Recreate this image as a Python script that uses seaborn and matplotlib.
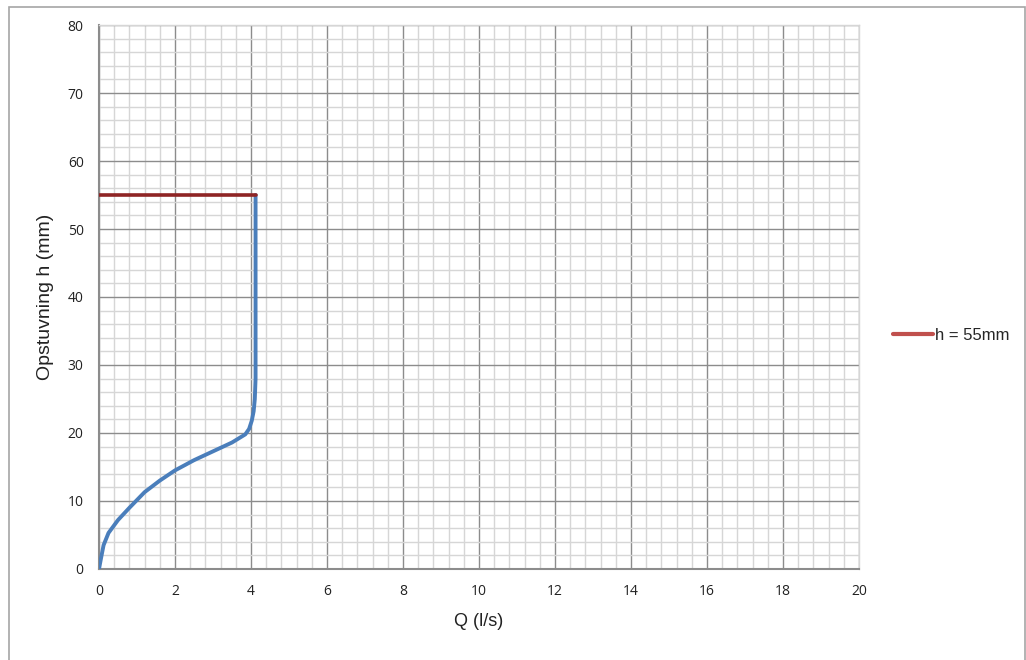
import numpy as np
import pandas as pd
import matplotlib
matplotlib.use("Agg")
import matplotlib.pyplot as plt
from matplotlib.patches import Rectangle
from matplotlib.ticker import MultipleLocator
import seaborn as sns

# Kurve: Q (l/s) mod opstuvning h (mm)
q_values = [0.0, 0.05, 0.12, 0.25, 0.5, 0.8, 1.2, 1.6, 2.0, 2.5, 3.0, 3.5, 3.85,
            3.95, 4.02, 4.07, 4.1, 4.12, 4.12, 4.12]
h_values = [0.0, 1.5, 3.5, 5.3, 7.2, 9.0, 11.3, 13.0, 14.5, 16.0, 17.3, 18.6, 19.8,
            20.6, 21.8, 23.2, 25.0, 28.0, 40.0, 55.0]

# Grænse h = 55mm
limit_q = [0.0, 4.12]
limit_h = [55.0, 55.0]
limit_label = "h = 55mm"

sns.set_theme(style="white")
plt.rcParams['font.family'] = ['Open Sans', 'DejaVu Sans']

fig = plt.figure(figsize=(10.26, 6.6), dpi=100)
ax = fig.add_axes([0.0965, 0.1379, 0.8372 - 0.0965, 0.9621 - 0.1379])

# ramme om hele figuren
fig.patches.append(Rectangle((9 / 1026, -0.05), (1025 - 9) / 1026, 1.04,
                             transform=fig.transFigure, fill=False,
                             edgecolor='#a6a6a6', linewidth=1.2))

curve = pd.DataFrame({'Q': q_values, 'h': h_values})
limit = pd.DataFrame({'Q': limit_q, 'h': limit_h})

sns.lineplot(data=curve, x='Q', y='h', sort=False, estimator=None, ax=ax,
             color='#4a7ebb', linewidth=2.8, zorder=3)
sns.lineplot(data=limit, x='Q', y='h', sort=False, estimator=None, ax=ax,
             color='#8e2424', linewidth=2.6, zorder=4, label=limit_label)

ax.set_xlim(0, 20)
ax.set_ylim(0, 80)
ax.xaxis.set_major_locator(MultipleLocator(2))
ax.xaxis.set_minor_locator(MultipleLocator(0.4))
ax.yaxis.set_major_locator(MultipleLocator(10))
ax.yaxis.set_minor_locator(MultipleLocator(2))

ax.grid(which='minor', color='#d6d6d6', linewidth=1.0)
ax.grid(which='major', color='#8c8c8c', linewidth=1.0)
ax.set_axisbelow(True)

for side in ['top', 'right']:
    ax.spines[side].set_color('#d6d6d6')
    ax.spines[side].set_linewidth(1.0)
for side in ['left', 'bottom']:
    ax.spines[side].set_color('#8c8c8c')
    ax.spines[side].set_linewidth(1.5)

ax.tick_params(axis='both', which='major', labelsize=10, colors='#222222',
               length=5, width=1, direction='out', color='#8c8c8c', pad=6)
ax.tick_params(axis='both', which='minor', length=0)

label_font = ['Liberation Sans Narrow', 'Liberation Sans', 'DejaVu Sans']
ax.set_xlabel('Q (l/s)', fontsize=13, family=label_font, color='#222222', labelpad=10)
ax.set_ylabel('Opstuvning h (mm)', fontsize=14, family=label_font, color='#222222', labelpad=10)

leg = ax.legend(loc='center left', bbox_to_anchor=(1.045, 0.43), frameon=False,
                prop={'family': label_font, 'size': 12}, handlelength=2.4,
                handletextpad=0.1, borderaxespad=0, borderpad=0)
for line in leg.get_lines():
    line.set_color('#c0504d')
    line.set_linewidth(3)

fig.savefig('out.png', dpi=100)
